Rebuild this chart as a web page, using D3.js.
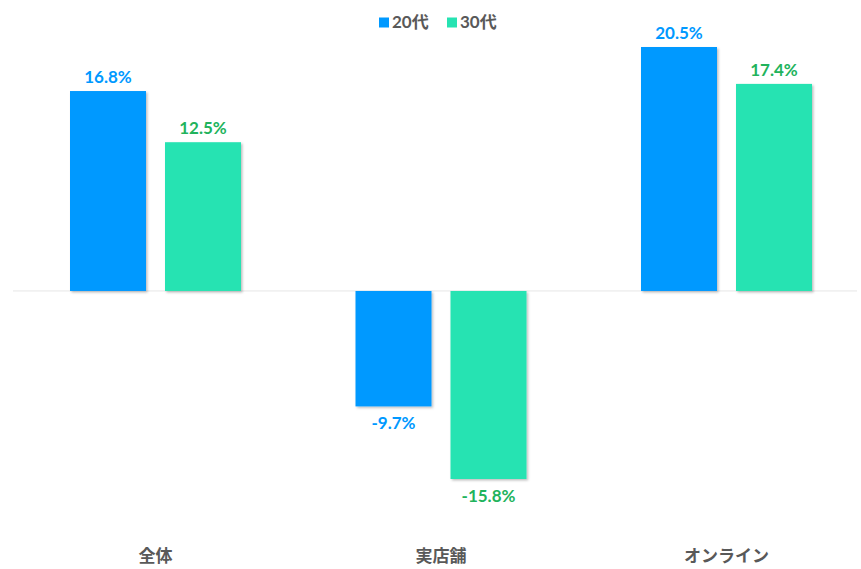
<!DOCTYPE html>
<html>
<head>
<meta charset="utf-8">
<script src="https://cdn.jsdelivr.net/npm/d3@7"></script>
<style>
  body { margin: 0; background: #fff; }
  text { font-family: Lato, "Noto Sans CJK JP", sans-serif; font-weight: bold; }
</style>
</head>
<body>
<script>
    const categories = ['全体', '実店舗', 'オンライン']
    const seriesNames = ['20代', '30代']
    const values20 = [16.8, -9.7, 20.5]
    const values30 = [12.5, -15.8, 17.4]

    const width = 861
    const height = 569

    const barColors = ['#0099ff', '#26e3b2']
    const labelColors = ['#0099ff', '#21b35c']

    const svg = d3.select('body')
        .append('svg')
        .attr('width', width)
        .attr('height', height)

    // Soft shadow like the original bars
    const defs = svg.append('defs')
    defs.append('filter')
        .attr('id', 'shadow')
        .attr('x', '-10%').attr('y', '-10%')
        .attr('width', '130%').attr('height', '130%')
        .append('feDropShadow')
        .attr('dx', 1.5).attr('dy', 1.5)
        .attr('stdDeviation', 1)
        .attr('flood-color', '#000')
        .attr('flood-opacity', 0.25)

    const data = categories.map((c, i) => ({
        category: c,
        values: [values20[i], values30[i]].map((v, j) => ({ series: j, value: v }))
    }))

    // Scales
    const xScale = d3.scaleBand()
        .domain(categories)
        .range([12.75, 869.25])

    const inner = d3.scaleBand()
        .domain([0, 1])
        .range([xScale.bandwidth() / 2 - 85.5, xScale.bandwidth() / 2 + 85.5])
        .paddingInner(0.2)

    const yScale = d3.scaleLinear()
        .domain([-15.8, 20.5])
        .range([479, 47])

    // Zero line
    svg.append('line')
        .attr('x1', 13).attr('x2', 857)
        .attr('y1', yScale(0)).attr('y2', yScale(0))
        .attr('stroke', '#e6e6e6')
        .attr('stroke-width', 1)

    const groups = svg.append('g')
        .selectAll('g')
        .data(data)
        .enter()
        .append('g')
        .attr('transform', d => `translate(${xScale(d.category)}, 0)`)

    groups.selectAll('rect')
        .data(d => d.values)
        .enter()
        .append('rect')
        .attr('x', d => inner(d.series))
        .attr('width', inner.bandwidth())
        .attr('y', d => yScale(Math.max(0, d.value)))
        .attr('height', d => Math.abs(yScale(d.value) - yScale(0)))
        .attr('fill', d => barColors[d.series])
        .attr('filter', 'url(#shadow)')

    // Value labels (plain hyphen for negatives)
    const fmt = v => v.toFixed(1) + '%'
    groups.selectAll('.value')
        .data(d => d.values)
        .enter()
        .append('text')
        .attr('class', 'value')
        .attr('x', d => inner(d.series) + inner.bandwidth() / 2)
        .attr('y', d => d.value >= 0 ? yScale(d.value) - 8 : yScale(d.value) + 23)
        .attr('text-anchor', 'middle')
        .attr('font-size', 17)
        .attr('fill', d => labelColors[d.series])
        .text(d => fmt(d.value))

    // Category labels
    svg.append('g')
        .selectAll('text')
        .data(categories)
        .enter()
        .append('text')
        .attr('x', d => xScale(d) + xScale.bandwidth() / 2)
        .attr('y', 562)
        .attr('text-anchor', 'middle')
        .attr('font-size', 17)
        .attr('fill', '#595959')
        .text(d => d)

    // Legend
    const legendX = [379, 447]
    const legend = svg.append('g')
        .selectAll('g')
        .data(seriesNames)
        .enter()
        .append('g')
        .attr('transform', (d, i) => `translate(${legendX[i]}, 0)`)

    legend.append('rect')
        .attr('x', 0).attr('y', 17.5)
        .attr('width', 10).attr('height', 10)
        .attr('fill', (d, i) => barColors[i])

    legend.append('text')
        .attr('x', 13).attr('y', 27.5)
        .attr('font-size', 17)
        .attr('fill', '#595959')
        .text(d => d)
</script>
</body>
</html>
